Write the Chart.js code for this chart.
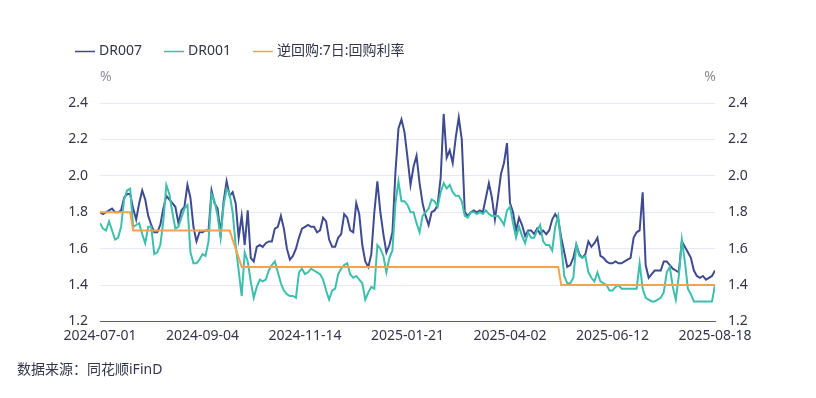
<!DOCTYPE html>
<html>
<head>
<meta charset="utf-8">
<script src="https://cdn.jsdelivr.net/npm/chart.js@4.4.1/dist/chart.umd.min.js"></script>
<style>
html,body{margin:0;padding:0;background:#ffffff;}
#wrap{width:816px;height:398px;position:relative;}
</style>
</head>
<body>
<div id="wrap"><canvas id="c" width="816" height="398"></canvas></div>
<script>
const tickLabels = ['2024-07-01','2024-09-04','2024-11-14','2025-01-21','2025-04-02','2025-06-12','2025-08-18'];
const seriesNames = ['DR007','DR001','逆回购:7日:回购利率'];
const seriesColors = ['#3f4b91','#3dbfad','#f5a24c'];
const unitLabel = '%';
const sourceNote = '数据来源：同花顺iFinD';
const yMin = 1.2, yMax = 2.4, yStep = 0.2;

const dr007 = [
1.80,1.79,1.80,1.81,1.82,1.80,1.80,1.81,1.88,1.90,
1.90,1.82,1.76,1.85,1.92,1.87,1.78,1.73,1.69,1.69,
1.73,1.82,1.89,1.87,1.85,1.83,1.74,1.81,1.83,1.95,
1.88,1.72,1.64,1.69,1.69,1.70,1.70,1.92,1.85,1.82,
1.68,1.86,1.97,1.89,1.91,1.85,1.66,1.78,1.62,1.81,
1.55,1.53,1.61,1.62,1.61,1.63,1.64,1.64,1.71,1.72,
1.78,1.71,1.60,1.54,1.56,1.60,1.66,1.71,1.72,1.73,
1.72,1.72,1.69,1.70,1.77,1.75,1.65,1.61,1.61,1.66,
1.68,1.79,1.77,1.70,1.69,1.85,1.79,1.62,1.53,1.50,
1.57,1.80,1.97,1.80,1.68,1.58,1.62,1.69,2.02,2.26,
2.31,2.24,2.10,1.95,2.05,2.11,1.96,1.85,1.78,1.73,
1.80,1.81,1.84,1.99,2.34,2.10,2.14,2.07,2.21,2.32,
2.20,1.80,1.78,1.80,1.81,1.80,1.81,1.80,1.88,1.96,
1.88,1.76,1.88,2.01,2.07,2.18,1.85,1.80,1.70,1.77,
1.73,1.67,1.70,1.70,1.68,1.71,1.68,1.70,1.68,1.70,
1.76,1.79,1.76,1.66,1.58,1.50,1.51,1.55,1.62,1.57,
1.55,1.57,1.64,1.61,1.63,1.66,1.56,1.55,1.53,1.52,
1.52,1.53,1.52,1.52,1.53,1.54,1.55,1.66,1.69,1.70,
1.91,1.51,1.44,1.46,1.48,1.48,1.48,1.53,1.53,1.51,
1.49,1.48,1.47,1.64,1.61,1.58,1.55,1.48,1.45,1.44,
1.45,1.43,1.44,1.45,1.48
];

const dr001 = [
1.74,1.71,1.70,1.75,1.70,1.65,1.66,1.72,1.87,1.92,
1.93,1.72,1.73,1.74,1.68,1.63,1.72,1.72,1.57,1.58,
1.62,1.75,1.95,1.90,1.80,1.71,1.72,1.77,1.82,1.84,
1.58,1.52,1.52,1.54,1.57,1.56,1.64,1.90,1.86,1.78,
1.66,1.84,1.93,1.90,1.80,1.62,1.48,1.34,1.58,1.53,
1.42,1.33,1.39,1.43,1.42,1.43,1.48,1.51,1.53,1.47,
1.41,1.37,1.35,1.34,1.34,1.33,1.47,1.49,1.46,1.47,
1.49,1.48,1.47,1.46,1.43,1.37,1.32,1.37,1.38,1.46,
1.49,1.51,1.52,1.46,1.44,1.45,1.43,1.41,1.32,1.36,
1.39,1.38,1.62,1.60,1.56,1.47,1.55,1.59,1.85,1.97,
1.86,1.86,1.84,1.80,1.80,1.74,1.69,1.78,1.80,1.82,
1.87,1.86,1.83,1.91,1.96,1.93,1.95,1.91,1.89,1.89,
1.86,1.78,1.77,1.80,1.80,1.79,1.80,1.79,1.81,1.79,
1.78,1.78,1.78,1.76,1.73,1.81,1.83,1.74,1.66,1.72,
1.67,1.63,1.69,1.66,1.66,1.70,1.73,1.64,1.62,1.62,
1.59,1.72,1.78,1.62,1.45,1.41,1.41,1.44,1.62,1.56,
1.55,1.56,1.47,1.44,1.42,1.47,1.42,1.41,1.40,1.37,
1.37,1.39,1.40,1.38,1.38,1.38,1.38,1.38,1.38,1.52,
1.38,1.33,1.32,1.31,1.31,1.32,1.33,1.36,1.47,1.50,
1.39,1.32,1.45,1.65,1.53,1.38,1.35,1.31,1.31,1.31,
1.31,1.31,1.31,1.31,1.40
];

const repo7d = [
1.8,1.8,1.8,1.8,1.8,1.8,1.8,1.8,1.8,1.8,
1.8,1.7,1.7,1.7,1.7,1.7,1.7,1.7,1.7,1.7,
1.7,1.7,1.7,1.7,1.7,1.7,1.7,1.7,1.7,1.7,
1.7,1.7,1.7,1.7,1.7,1.7,1.7,1.7,1.7,1.7,
1.7,1.7,1.7,1.7,1.65,1.6,1.55,1.5,1.5,1.5,
1.5,1.5,1.5,1.5,1.5,1.5,1.5,1.5,1.5,1.5,
1.5,1.5,1.5,1.5,1.5,1.5,1.5,1.5,1.5,1.5,
1.5,1.5,1.5,1.5,1.5,1.5,1.5,1.5,1.5,1.5,
1.5,1.5,1.5,1.5,1.5,1.5,1.5,1.5,1.5,1.5,
1.5,1.5,1.5,1.5,1.5,1.5,1.5,1.5,1.5,1.5,
1.5,1.5,1.5,1.5,1.5,1.5,1.5,1.5,1.5,1.5,
1.5,1.5,1.5,1.5,1.5,1.5,1.5,1.5,1.5,1.5,
1.5,1.5,1.5,1.5,1.5,1.5,1.5,1.5,1.5,1.5,
1.5,1.5,1.5,1.5,1.5,1.5,1.5,1.5,1.5,1.5,
1.5,1.5,1.5,1.5,1.5,1.5,1.5,1.5,1.5,1.5,
1.5,1.5,1.5,1.4,1.4,1.4,1.4,1.4,1.4,1.4,
1.4,1.4,1.4,1.4,1.4,1.4,1.4,1.4,1.4,1.4,
1.4,1.4,1.4,1.4,1.4,1.4,1.4,1.4,1.4,1.4,
1.4,1.4,1.4,1.4,1.4,1.4,1.4,1.4,1.4,1.4,
1.4,1.4,1.4,1.4,1.4,1.4,1.4,1.4,1.4,1.4,
1.4,1.4,1.4,1.4,1.4
];

const FONT = '"Noto Sans", "Noto Sans CJK SC", sans-serif';
const TEXT_COLOR = '#34344a';

const N = dr007.length;
const indexLabels = dr007.map((_, i) => i);
const tickEvery = (N - 1) / (tickLabels.length - 1);

const overlay = {
  id: 'overlay',
  afterDraw(chart) {
    const ctx = chart.ctx;
    const a = chart.chartArea;
    ctx.save();
    ctx.font = '14px ' + FONT;
    ctx.textBaseline = 'middle';
    let x = 75;
    const y = 51.5;
    chart.data.datasets.forEach(ds => {
      ctx.strokeStyle = ds.borderColor;
      ctx.lineWidth = 1.5;
      ctx.beginPath();
      ctx.moveTo(x, y);
      ctx.lineTo(x + 20, y);
      ctx.stroke();
      ctx.fillStyle = TEXT_COLOR;
      ctx.textAlign = 'left';
      ctx.fillText(ds.label, x + 24, y);
      x += 24 + ctx.measureText(ds.label).width + 22;
    });
    ctx.fillStyle = '#8e8e9a';
    ctx.textAlign = 'left';
    ctx.fillText(unitLabel, a.left, 77);
    ctx.textAlign = 'right';
    ctx.fillText(unitLabel, a.right + 1, 77);
    ctx.textAlign = 'left';
    ctx.fillStyle = TEXT_COLOR;
    ctx.fillText(sourceNote, 17, 370);
    ctx.restore();
  }
};

const tickFont = { size: 14, family: FONT };

new Chart(document.getElementById('c'), {
  type: 'line',
  data: {
    labels: indexLabels,
    datasets: [
      { label: seriesNames[0], data: dr007, borderColor: seriesColors[0], backgroundColor: seriesColors[0],
        borderWidth: 2, pointRadius: 0, tension: 0, order: 3, yAxisID: 'y' },
      { label: seriesNames[1], data: dr001, borderColor: seriesColors[1], backgroundColor: seriesColors[1],
        borderWidth: 2, pointRadius: 0, tension: 0, order: 2, yAxisID: 'y' },
      { label: seriesNames[2], data: repo7d, borderColor: seriesColors[2], backgroundColor: seriesColors[2],
        borderWidth: 2, pointRadius: 0, tension: 0, order: 1, yAxisID: 'y' }
    ]
  },
  options: {
    responsive: false,
    animation: false,
    devicePixelRatio: 1,
    layout: { padding: { top: 103, left: 0, right: 0, bottom: 0 } },
    plugins: { legend: { display: false }, tooltip: { enabled: false } },
    scales: {
      x: {
        type: 'linear', min: 0, max: N - 1,
        grid: { display: false, drawTicks: false },
        border: { display: true, color: '#575d8a', width: 1 },
        afterBuildTicks(s) { s.ticks = tickLabels.map((_, i) => ({ value: i * tickEvery })); },
        ticks: {
          autoSkip: false, maxRotation: 0, minRotation: 0, padding: 6,
          color: TEXT_COLOR, font: tickFont,
          callback: (v) => tickLabels[Math.round(v / tickEvery)]
        },
        afterFit(s) { s.height = 76.5; }
      },
      y: {
        position: 'left', min: yMin, max: yMax,
        ticks: { stepSize: yStep, padding: 12, color: TEXT_COLOR, font: tickFont, callback: (v) => Number(v).toFixed(1) },
        grid: { color: '#e9e7f3', drawTicks: false, lineWidth: 1 },
        border: { display: false },
        afterFit(s) { s.width = 100; }
      },
      y2: {
        position: 'right', min: yMin, max: yMax,
        ticks: { stepSize: yStep, padding: 13, color: TEXT_COLOR, font: tickFont, callback: (v) => Number(v).toFixed(1) },
        grid: { display: false, drawTicks: false },
        border: { display: false },
        afterFit(s) { s.width = 101; }
      }
    }
  },
  plugins: [overlay]
});
</script>
</body>
</html>
